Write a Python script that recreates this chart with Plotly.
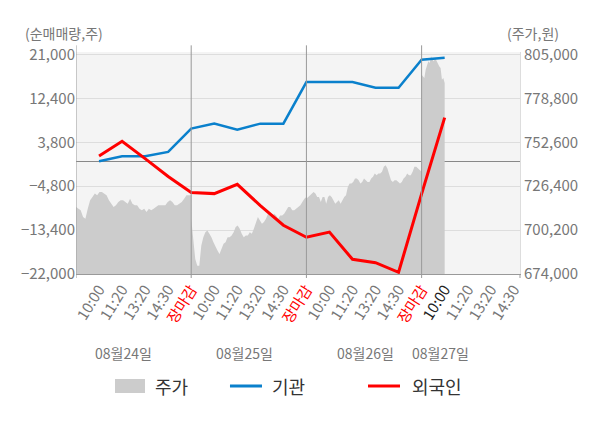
import plotly.graph_objects as go

FONT = "Noto Sans CJK KR"

# x축: 하루를 5칸(10:00, 11:20, 13:20, 14:30, 장마감)으로 나눈 시점
dates = ['08월24일', '08월25일', '08월26일', '08월27일']
time_labels = ['10:00', '11:20', '13:20', '14:30', '장마감']

# 순매매량 (주), 시점 1..16
inst = [100, 1075, 1075, 1915, 6490, 7465, 6295, 7465, 7465,
        15600, 15600, 15600, 14500, 14500, 20000, 20370]
foreign = [1130, 4000, 600, -2900, -6050, -6250, -4430, -8600, -12450,
           -14800, -13800, -19120, -19780, -21660, -6300, 8640]

# 주가 (원), 일자별 장중 흐름
price_0824 = [714000, 713000, 712000, 708000, 707000, 713000, 718000, 720000, 722000, 721000,
              723000, 723000, 722000, 721000, 718000, 716000, 714000, 715000, 717000, 718000,
              718000, 717000, 716000, 719000, 716000, 715000, 715000, 713000, 712000, 713000,
              711000, 713000, 712000, 713000, 714000, 715000, 715000, 715000, 715000, 717000,
              718000, 717000, 715000, 715000, 716000, 717000, 719000, 721000, 721000, 721000]
price_0825 = [707000, 694000, 683000, 679000, 679000, 691000, 696000, 699000, 700000, 698000,
              696000, 693000, 690000, 688000, 686000, 689000, 692000, 693000, 696000, 696000,
              697000, 699000, 702000, 703000, 701000, 698000, 696000, 697000, 697000, 699000,
              698000, 701000, 705000, 708000, 706000, 704000, 705000, 707000, 710000, 710000,
              708000, 710000, 709000, 707000, 709000, 709000, 710000, 712000, 714000, 714000,
              712000, 712000, 713000, 714000, 715000, 717000, 719000, 720000]
price_0826 = [719000, 720000, 721000, 722000, 723000, 722000, 720000, 720000, 717000, 720000,
              720000, 716000, 720000, 721000, 720000, 718000, 716000, 717000, 718000, 716000,
              718000, 720000, 721000, 726000, 728000, 728000, 729000, 731000, 731000, 730000,
              728000, 729000, 731000, 730000, 729000, 729000, 731000, 732000, 734000, 733000,
              734000, 734000, 735000, 738000, 739000, 737000, 734000, 730000, 729000, 730000,
              730000, 729000, 728000, 729000, 731000, 732000, 734000, 733000, 733000, 735000,
              738000, 738000, 737000, 736000, 735000]
price_0827 = [793000, 792000, 791000, 796000, 798000, 801000, 800000, 804000, 802000, 801000,
              803000, 801000, 799000, 798000, 797000, 790000, 791000, 788000]

prices = [price_0824, price_0825, price_0826, price_0827]
day_span = [5, 5, 5, 1]   # 27일은 10:00까지만 체결

px, py = [], []
for d, (vals, span) in enumerate(zip(prices, day_span)):
    n = len(vals)
    px += [d * 5 + span * i / (n - 1) for i in range(n)]
    py += vals

points = list(range(1, len(inst) + 1))

tickvals, ticktext = [], []
for d in range(len(dates)):
    for k, lab in enumerate(time_labels):
        if d == 3 and k == 4:
            break
        tickvals.append(d * 5 + k + 1)
        if lab == '장마감':
            ticktext.append('<span style="color:#ff0000">%s</span>' % lab)
        elif d == 3 and k == 0:
            ticktext.append('<span style="color:#222222">%s</span>' % lab)
        else:
            ticktext.append(lab)

left_ticks = [-22000, -13400, -4800, 3800, 12400, 21000]
right_ticks = [674000, 700200, 726400, 752600, 778800, 805000]

fig = go.Figure()
fig.add_trace(go.Scatter(x=px, y=py, mode='lines', name='주가', yaxis='y',
                         line=dict(width=0, color='#cccccc'), fill='tozeroy',
                         fillcolor='#cccccc', hoverinfo='skip'))
fig.add_trace(go.Scatter(x=points, y=inst, mode='lines', name='기관', yaxis='y2',
                         line=dict(color='#0a80cc', width=2.5)))
fig.add_trace(go.Scatter(x=points, y=foreign, mode='lines', name='외국인', yaxis='y2',
                         line=dict(color='#ff0000', width=3)))

# 페이지 body 여백(8px)을 감안한 크기
fig.update_layout(
    width=584, height=412,
    margin=dict(l=68, r=72, t=44, b=146),
    paper_bgcolor='white', plot_bgcolor='#f4f4f4',
    font=dict(family=FONT, color='#777777', size=14),
    showlegend=False,
    xaxis=dict(range=[0, 19.27], tickmode='array', tickvals=tickvals, ticktext=ticktext,
               tickangle=-58, tickfont=dict(size=15, color='#777777'), ticks='',
               showgrid=False, zeroline=False, showline=True, linecolor='#999999',
               linewidth=1, automargin=False),
    yaxis=dict(side='right', range=[674000, 806550], tickvals=right_ticks,
               tickformat=',d', showgrid=False, zeroline=False, ticks='',
               tickfont=dict(size=15, color='#777777'), showline=True,
               linecolor='#dddddd', automargin=False),
    yaxis2=dict(overlaying='y', side='left', range=[-22000, 21500], tickvals=left_ticks,
                tickformat=',d', showgrid=True, gridcolor='#dddddd', gridwidth=1,
                zeroline=True, zerolinecolor='#888888', zerolinewidth=1, ticks='',
                tickfont=dict(size=15, color='#777777'), automargin=False),
)

shapes = []
for xv in [0, 5, 10, 15]:
    shapes.append(dict(type='line', xref='x', yref='paper', x0=xv, x1=xv,
                       y0=-0.018, y1=1.03, line=dict(color='#999999', width=1)))
shapes.append(dict(type='line', xref='paper', yref='paper', x0=1, x1=1, y0=-0.018, y1=0,
                   line=dict(color='#999999', width=1)))

# 범례
shapes.append(dict(type='rect', xref='paper', yref='paper', x0=0.0878, x1=0.1554,
                   y0=-0.536, y1=-0.473, line=dict(width=0), fillcolor='#cccccc'))
shapes.append(dict(type='line', xref='paper', yref='paper', x0=0.3468, x1=0.4189,
                   y0=-0.5045, y1=-0.5045, line=dict(color='#0a80cc', width=3)))
shapes.append(dict(type='line', xref='paper', yref='paper', x0=0.6577, x1=0.7297,
                   y0=-0.5045, y1=-0.5045, line=dict(color='#ff0000', width=3)))
fig.update_layout(shapes=shapes)

ann = []
for name, xp in zip(['주가', '기관', '외국인'], [0.1734, 0.437, 0.7523]):
    ann.append(dict(text=name, xref='paper', yref='paper', x=xp, y=-0.5045,
                    xanchor='left', yanchor='middle', showarrow=False,
                    font=dict(size=18, color='#333333')))
for dt, xp in zip(dates, [0.1081, 0.3806, 0.652, 0.822]):
    ann.append(dict(text=dt, xref='paper', yref='paper', x=xp, y=-0.356,
                    xanchor='center', yanchor='middle', showarrow=False,
                    font=dict(size=14, color='#777777')))
ann.append(dict(text='(순매매량,주)', xref='paper', yref='paper', x=-0.1194, y=1.0856,
                xanchor='left', yanchor='middle', showarrow=False,
                font=dict(size=14, color='#777777')))
ann.append(dict(text='(주가,원)', xref='paper', yref='paper', x=1.0923, y=1.0856,
                xanchor='right', yanchor='middle', showarrow=False,
                font=dict(size=14, color='#777777')))
fig.update_layout(annotations=ann)

fig.write_html("out.html")
